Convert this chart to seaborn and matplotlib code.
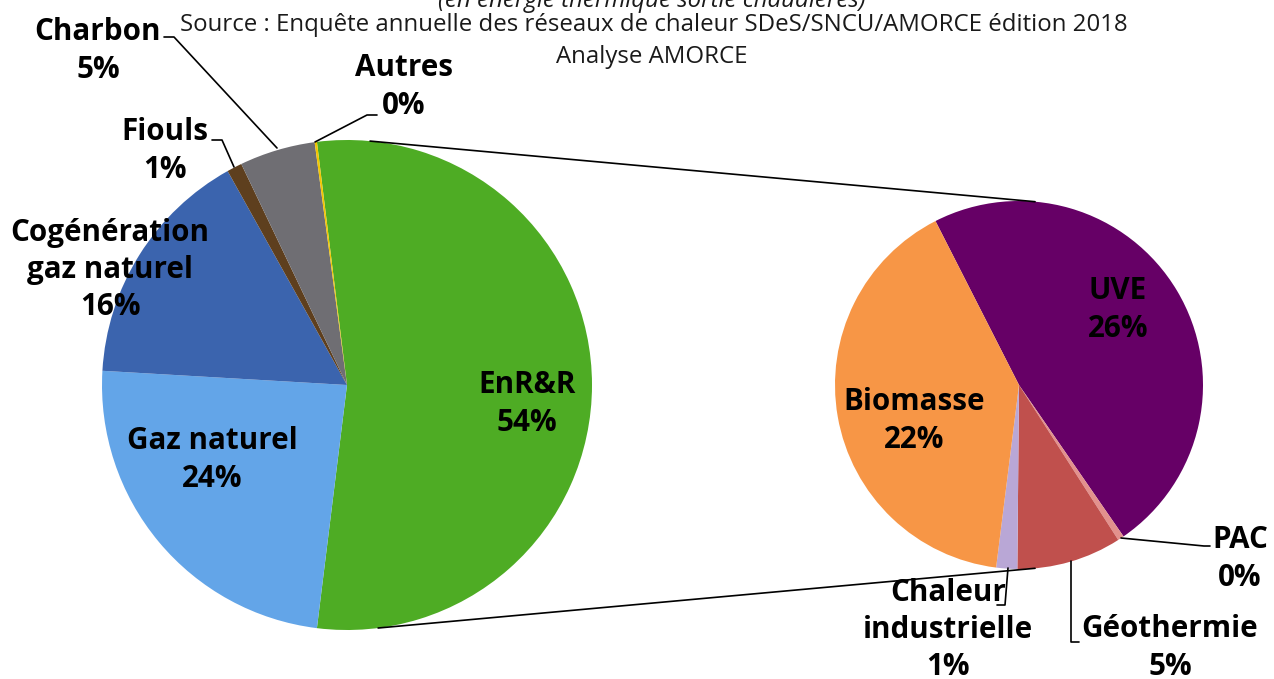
import numpy as np
import matplotlib
matplotlib.use("Agg")
import matplotlib.pyplot as plt
import seaborn as sns

# ---- data ----
main_labels = ["EnR&R", "Gaz naturel", "Cogénération\ngaz naturel", "Fiouls", "Charbon", "Autres"]
main_values = [54, 24, 16, 1, 5, 0.15]
main_pct = ["54%", "24%", "16%", "1%", "5%", "0%"]
main_colors = ["#4EAC24", "#63A5E8", "#3B64AE", "#5E3F1E", "#6F6E73", "#F2C500"]

sub_labels = ["UVE", "PAC", "Géothermie", "Chaleur\nindustrielle", "Biomasse"]
sub_values = [26, 0.3, 5, 1, 22]
sub_pct = ["26%", "0%", "5%", "1%", "22%"]
sub_colors = ["#660066", "#E3918D", "#C0504D", "#B9A7D6", "#F79646"]

title_lines = ["(en énergie thermique sortie chaudières)",
               "Source : Enquête annuelle des réseaux de chaleur SDeS/SNCU/AMORCE édition 2018",
               "Analyse AMORCE"]

sns.set_theme(style="white")
plt.rcParams['font.family'] = ['Open Sans', 'DejaVu Sans']

W, H = 1274, 679
fig = plt.figure(figsize=(W / 100, H / 100), dpi=100)
ax = fig.add_axes([0, 0, 1, 1])

def Y(y):
    return H - y

# geometry
c1 = (347, Y(385)); r1 = 245
c2 = (1019, Y(385)); r2 = 184

start1 = main_values[0] / sum(main_values) * 180
ax.pie(main_values, colors=main_colors, startangle=start1, counterclock=False,
       center=c1, radius=r1, wedgeprops=dict(linewidth=0), frame=True)
start2 = 117
ax.pie(sub_values, colors=sub_colors, startangle=start2, counterclock=False,
       center=c2, radius=r2, wedgeprops=dict(linewidth=0), frame=True)
ax.set_xlim(0, W)
ax.set_ylim(0, H)
ax.set_aspect("equal")
ax.axis("off")

# connector lines (from pie geometry)
def pt(c, r, ang):
    a = np.deg2rad(ang)
    return c[0] + r * np.cos(a), c[1] + r * np.sin(a)

p1t = pt(c1, r1, 84.6); p2t = pt(c2, r2, 85)
p1b = pt(c1, r1, -82.7); p2b = pt(c2, r2, -85)
ax.plot([p1t[0], p2t[0]], [p1t[1], p2t[1]], color="black", lw=1.2)
ax.plot([p1b[0], p2b[0]], [p1b[1], p2b[1]], color="black", lw=1.2)

# titles
tkw = dict(ha="center", va="center", fontsize=17.3, color="#1a1a1a")
ax.text(652, Y(1), title_lines[0], style="italic", **tkw)
ax.text(654, Y(25), title_lines[1], **tkw)
ax.text(652, Y(57), title_lines[2], **tkw)

lkw = dict(ha="center", va="center", fontsize=21.3, fontweight="bold", color="black",
           linespacing=1.32)

def label(x, y, name, pct):
    ax.text(x, Y(y), name + "\n" + pct, **lkw)

label(527, 404, main_labels[0], main_pct[0])
label(212, 460, main_labels[1], main_pct[1])
label(110, 270, main_labels[2], main_pct[2])
label(165, 151, main_labels[3], main_pct[3])
label(98, 51, main_labels[4], main_pct[4])
label(404, 87, main_labels[5], main_pct[5])

label(1118, 310, sub_labels[0], sub_pct[0])
label(1240, 559, sub_labels[1], sub_pct[1])
label(1170, 648, sub_labels[2], sub_pct[2])
label(948, 630, sub_labels[3], sub_pct[3])
label(914, 421, sub_labels[4], sub_pct[4])

# leader lines
def leader(pts):
    xs = [p[0] for p in pts]
    ys = [Y(p[1]) for p in pts]
    ax.plot(xs, ys, color="black", lw=1.2)

leader([(164, 37), (174, 37), (277, 148)])          # Charbon
leader([(212, 140), (222, 140), (234, 167)])        # Fiouls
leader([(315, 142), (367, 115), (377, 115)])        # Autres
leader([(1121, 538), (1204, 546), (1210, 546)])     # PAC
leader([(1008, 568), (1005, 605), (997, 605)])      # Chaleur industrielle
leader([(1071, 561), (1071, 642), (1079, 642)])     # Géothermie

fig.savefig("out.png", dpi=100)
